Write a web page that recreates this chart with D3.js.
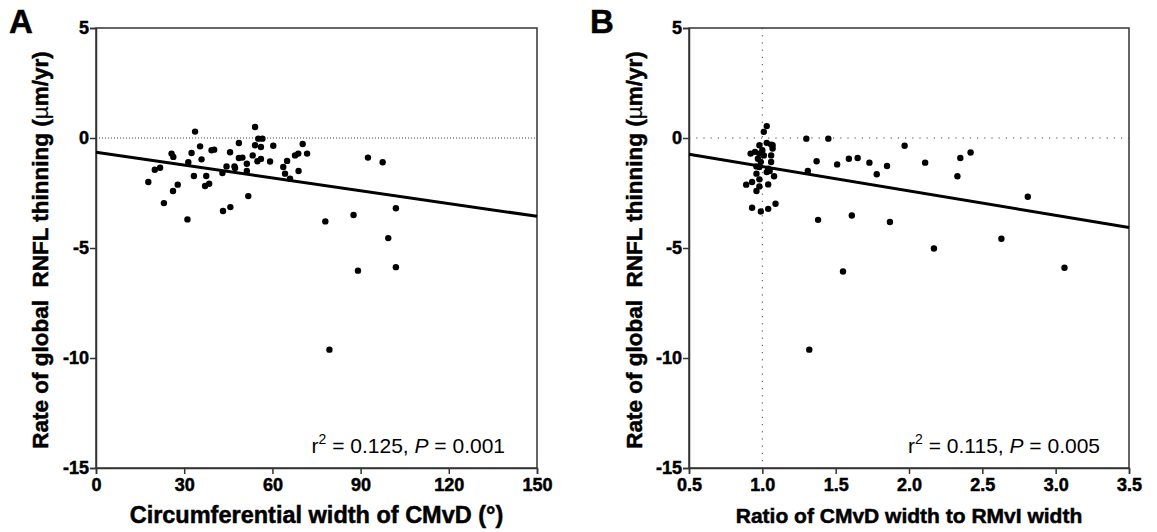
<!DOCTYPE html>
<html>
<head>
<meta charset="utf-8">
<script src="https://cdn.jsdelivr.net/npm/d3@7"></script>
<style>
  body { margin: 0; background: #fff; }
  svg { font-family: "Liberation Sans", Arial, sans-serif; }
  .heavy { stroke: #000; stroke-width: 0.5px; }
</style>
</head>
<body>
<svg id="chart" width="1157" height="532"></svg>
<script>
// panel A: circumferential width of CMvD (deg) vs rate of RNFL thinning
var widthA = [17.8, 20.0, 21.8, 23.1, 25.7, 26.3, 26.2, 27.8, 31.1, 31.4, 32.5, 33.7, 33.3, 35.4, 35.9, 37.1,
  37.5, 38.5, 39.3, 40.2, 43.0, 43.2, 44.4, 45.6, 45.7, 47.1, 47.3, 48.6, 48.6, 49.8, 51.3, 51.3, 51.8, 53.3,
  54.1, 54.1, 55.2, 56.6, 56.1, 54.9, 56.1, 59.2, 60.3, 63.7, 64.3, 65.0, 66.0, 67.7, 68.8, 68.9, 70.3, 71.8,
  78.0, 79.4, 87.6, 89.1, 92.5, 97.5, 99.4, 102.0, 102.0];
var rateA = [-2.0, -1.44, -1.35, -2.96, -0.71, -0.86, -2.41, -2.12, -3.70, -1.10, -0.68, 0.29, -1.73, -0.38, -0.97, -2.18,
  -1.73, -2.08, -0.56, -0.53, -1.59, -3.32, -1.29, -0.65, -3.14, -1.29, -1.36, -0.23, -0.91, -0.89, -1.17, -1.50, -2.64, -0.79,
  0.50, -0.33, -0.03, -0.03, -0.41, -1.06, -0.95, -1.07, -0.35, -1.32, -1.62, -1.04, -1.85, -0.79, -0.71, -1.50, -0.27, -0.71,
  -3.79, -9.62, -3.50, -6.03, -0.89, -1.10, -4.55, -3.19, -5.87];
var fitA = [[0, -0.65], [150, -3.56]];

// panel B: ratio of CMvD width to RMvI width vs rate of RNFL thinning
var ratioB = [1.03, 1.01, 0.98, 1.03, 1.06, 1.07, 1.07, 0.95, 0.92, 1.00, 0.98, 1.01, 1.06, 0.97, 0.99, 1.06,
  0.96, 0.98, 1.04, 1.03, 1.05, 0.96, 1.08, 0.98, 0.93, 0.89, 1.04, 0.98, 0.96, 0.93, 0.99, 1.04, 1.09,
  1.30, 1.45, 1.37, 1.51, 1.59, 1.31, 1.38, 1.65, 1.73, 1.78, 1.85, 1.97, 2.11, 2.33, 2.35, 2.42, 2.81,
  1.61, 1.87, 2.17, 2.63, 1.55, 3.06, 1.32];
var rateB = [0.54, 0.28, -0.33, -0.22, -0.30, -0.33, -0.48, -0.63, -0.71, -0.56, -0.71, -0.79, -0.79, -0.94, -1.09, -1.09,
  -1.29, -1.32, -1.39, -1.55, -1.50, -1.62, -1.74, -1.88, -2.00, -2.12, -2.11, -2.20, -2.41, -3.17, -3.34, -3.22, -2.99,
  -0.03, -0.03, -1.06, -1.20, -0.94, -1.50, -3.72, -0.91, -1.12, -1.65, -1.27, -0.35, -1.12, -1.74, -0.91, -0.66, -2.67,
  -3.52, -3.82, -5.02, -4.58, -6.07, -5.90, -9.62];
var fitB = [[0.5, -0.74], [3.5, -4.07]];

var yTicks = [5, 0, -5, -10, -15];
var xTicksA = [0, 30, 60, 90, 120, 150];
var xTicksB = [0.5, 1.0, 1.5, 2.0, 2.5, 3.0, 3.5];

var svg = d3.select("#chart");
var plotTop = 28, plotBottom = 468;

function panel(o) {
  var x = d3.scaleLinear().domain(o.xDomain).range([o.left, o.right]);
  var y = d3.scaleLinear().domain([-15, 5]).range([plotBottom, plotTop]);
  var g = svg.append("g");

  // frame
  g.append("rect")
    .attr("x", o.left).attr("y", plotTop)
    .attr("width", o.right - o.left).attr("height", plotBottom - plotTop)
    .attr("fill", "none").attr("stroke", "#333").attr("stroke-width", 1.5);

  // reference lines
  g.append("line")
    .attr("x1", o.left).attr("x2", o.right)
    .attr("y1", y(0)).attr("y2", y(0))
    .attr("stroke", "#444").attr("stroke-width", 1)
    .attr("stroke-dasharray", o.dash);
  if (o.vref != null) {
    g.append("line")
      .attr("x1", x(o.vref)).attr("x2", x(o.vref))
      .attr("y1", plotTop).attr("y2", plotBottom)
      .attr("stroke", "#444").attr("stroke-width", 1)
      .attr("stroke-dasharray", o.dash);
  }

  var ax = g.append("g")
    .attr("transform", "translate(0," + plotBottom + ")")
    .call(d3.axisBottom(x).tickValues(o.xTicks).tickSize(6).tickPadding(4).tickFormat(o.fmt));
  var ay = g.append("g")
    .attr("transform", "translate(" + o.left + ",0)")
    .call(d3.axisLeft(y).tickValues(yTicks).tickSize(6).tickPadding(1)
      .tickFormat(function (d) { return String(d); }));
  [ax, ay].forEach(function (a) {
    a.attr("font-size", null).attr("font-family", null);
    a.select(".domain").attr("stroke", "#333").attr("stroke-width", 1.5);
    a.selectAll(".tick line").attr("stroke", "#333").attr("stroke-width", 1.5);
    a.selectAll("text").attr("class", "heavy")
      .style("font-size", "18px").style("font-weight", "bold")
      .attr("fill", "#000");
  });

  // regression line
  g.append("path")
    .attr("d", d3.line().x(function (d) { return x(d[0]); }).y(function (d) { return y(d[1]); })(o.fit))
    .attr("stroke", "#000").attr("stroke-width", 3).attr("fill", "none");

  // points
  g.selectAll("circle.pt")
    .data(o.xs.map(function (v, i) { return [v, o.ys[i]]; }))
    .join("circle")
    .attr("class", "pt")
    .attr("cx", function (d) { return x(d[0]); })
    .attr("cy", function (d) { return y(d[1]); })
    .attr("r", 3.2)
    .attr("fill", "#000");

  // y title
  var yt = g.append("text")
    .attr("class", "heavy")
    .attr("transform", "translate(" + o.yTitleX + ",250) rotate(-90)")
    .attr("text-anchor", "middle")
    .style("font-size", "22.5px").style("font-weight", "bold");
  yt.append("tspan").text("Rate of global\u00a0 RNFL thinning (");
  yt.append("tspan").style("font-weight", "normal").style("stroke-width", "0.2px").text("\u00b5");
  yt.append("tspan").text("m/yr)");

  // x title
  g.append("text")
    .attr("class", "heavy")
    .attr("x", (o.left + o.right) / 2).attr("y", 523)
    .attr("text-anchor", "middle")
    .style("font-size", o.xTitleSize + "px").style("font-weight", "bold")
    .text(o.xTitle);

  // stats annotation
  var st = g.append("text")
    .attr("x", o.statX).attr("y", 453)
    .attr("text-anchor", "end")
    .style("font-size", "21px");
  st.append("tspan").text("r");
  st.append("tspan").style("font-size", "14px").attr("dy", -9).text("2");
  st.append("tspan").attr("dy", 9).text(" = " + o.r2 + ", ");
  st.append("tspan").style("font-style", "italic").text("P");
  st.append("tspan").text(" = " + o.p);

  // panel letter
  g.append("text")
    .attr("class", "heavy")
    .attr("x", o.letterX).attr("y", 33)
    .style("font-size", "33px").style("font-weight", "bold")
    .text(o.letter);
}

panel({
  letter: "A", letterX: 9,
  left: 96, right: 537, xDomain: [0, 150], xTicks: xTicksA, fmt: d3.format("d"),
  xs: widthA, ys: rateA, fit: fitA, dash: "1,2",
  yTitleX: 48, xTitle: "Circumferential width of CMvD (\u00b0)", xTitleSize: 23.5,
  statX: 505, r2: "0.125", p: "0.001"
});

panel({
  letter: "B", letterX: 590,
  left: 689, right: 1129, xDomain: [0.5, 3.5], xTicks: xTicksB, fmt: d3.format(".1f"),
  xs: ratioB, ys: rateB, fit: fitB, dash: "1.2,6", vref: 1.0,
  yTitleX: 642, xTitle: "Ratio of CMvD width to RMvI width", xTitleSize: 21,
  statX: 1100, r2: "0.115", p: "0.005"
});
</script>
</body>
</html>
